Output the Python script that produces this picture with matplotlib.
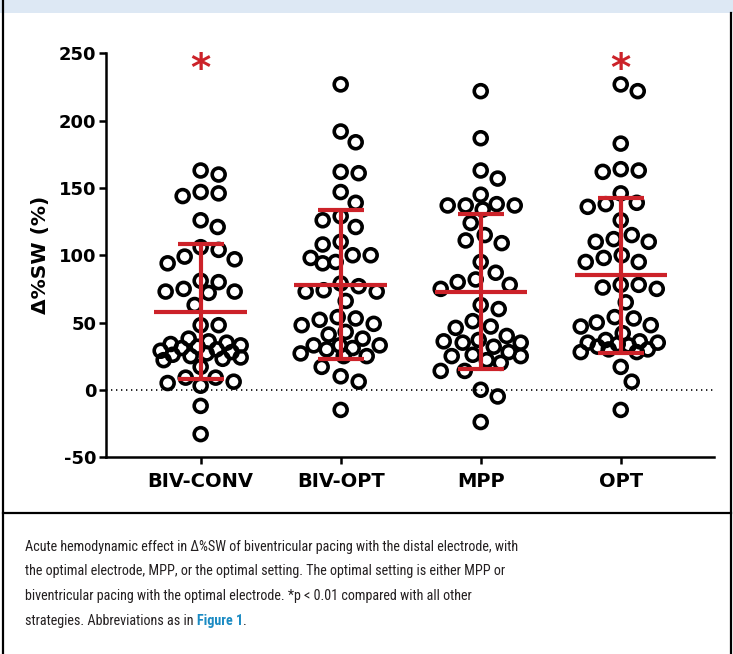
import numpy as np
import matplotlib
matplotlib.use('Agg')
import matplotlib.pyplot as plt
from matplotlib.patches import Rectangle
from matplotlib.lines import Line2D

# ---------------- data ----------------
categories = ['BIV-CONV', 'BIV-OPT', 'MPP', 'OPT']

biv_conv = [160, 163, 146, 144, 147, 121, 126, 106, 104, 94, 99, 97, 80, 81,
            73, 72, 73, 75, 63, 48, 48,
            38, 36, 35, 34, 33, 32, 31, 30, 29, 28, 27, 26, 25, 24, 23, 22,
            17, 9, 6, 3, 5, 9, -12, -33]
biv_opt = [227, 192, 184, 162, 161, 147, 139, 129, 126, 121, 110, 108, 100,
           95, 94, 98, 100, 77, 73, 66, 73, 74, 79, 53, 49, 43, 48, 52, 54,
           41, 38, 33, 30, 25, 25, 27, 31, 33, 33, 17, 10, 6, -15]
mpp = [222, 187, 163, 157, 145, 137, 137, 134, 137, 138, 124, 115, 109, 111,
       95, 87, 75, 80, 78, 82, 63, 60, 51, 46, 47, 40, 36, 35, 37, 35, 26, 22,
       28, 32, 25, 25, 20, 14, 14, 0, -5, -24]
opt = [227, 222, 183, 163, 162, 164, 146, 138, 136, 139, 126, 110, 112, 115,
       110, 100, 95, 95, 98, 78, 76, 75, 78, 65, 54, 50, 47, 48, 53, 42, 37,
       35, 34, 33, 35, 30, 28, 32, 30, 28, 36, 17, 6, -15]

group_values = [biv_conv, biv_opt, mpp, opt]
means = [58, 78, 73, 85]
sds = [50, 55.5, 57.5, 57.5]
significant = [True, False, False, True]
yticks = [-50, 0, 50, 100, 150, 200, 250]

caption_lines = [
    "Acute hemodynamic effect in \u0394%SW of biventricular pacing with the distal electrode, with",
    "the optimal electrode, MPP, or the optimal setting. The optimal setting is either MPP or",
    "biventricular pacing with the optimal electrode. *p < 0.01 compared with all other",
]
caption_last = "strategies. Abbreviations as in "
caption_link = "Figure 1"

RED = '#cc2229'
W, H = 733, 654

# ---------------- helpers ----------------
PX_X = 140.0          # pixels per category unit
PX_Y = 67.3 / 50.0    # pixels per y unit


def swarm_offsets(values, d=18.0, step=1.0, maxw=40.0):
    vals = np.asarray(values, float)
    order = np.argsort(-vals)
    cands = np.arange(-maxw, maxw + step / 2, step)
    cands = cands[np.argsort(np.abs(cands) + 1e-6 * (cands < 0))]
    placed_x, placed_y = [], []
    xs = np.zeros(len(vals))
    for i in order:
        y = vals[i] * PX_Y
        if placed_x:
            px = np.array(placed_x)
            py = np.array(placed_y)
            dmins = np.array([np.min(np.hypot(c - px, y - py)) for c in cands])
            ok = np.where(dmins >= d)[0]
            j = ok[0] if len(ok) else int(np.argmax(dmins))
            best = cands[j]
        else:
            best = 0.0
        placed_x.append(best)
        placed_y.append(y)
        xs[i] = best / PX_X
    return xs


# ---------------- figure ----------------
fig = plt.figure(figsize=(W / 100, H / 100), dpi=100)

def fx(x):
    return x / W

def fy(y):
    return 1 - y / H

# header band
fig.add_artist(Rectangle((0, fy(13)), 1, 13 / H, transform=fig.transFigure,
                         facecolor='#dde8f4', edgecolor='none', zorder=0))
# frame around chart panel
frame_kw = dict(color='black', lw=1.6, transform=fig.transFigure)
fig.add_artist(Line2D([fx(2.5), fx(2.5)], [fy(0), fy(654)], **frame_kw))
fig.add_artist(Line2D([fx(731), fx(731)], [fy(13), fy(654)], **frame_kw))
fig.add_artist(Line2D([fx(2.5), fx(731)], [fy(513), fy(513)], **frame_kw))

left, right = 106, 714
top, bottom = 53.5, 457
ax = fig.add_axes([fx(left), fy(bottom), (right - left) / W, (bottom - top) / H])

for i, vals in enumerate(group_values):
    xs = i + swarm_offsets(vals)
    ax.scatter(xs, vals, s=9.3 ** 2, facecolors='none', edgecolors='black',
               linewidths=2.6, zorder=3)
    m, s = means[i], sds[i]
    ax.hlines(m, i - 0.33, i + 0.33, color=RED, lw=3, zorder=4)
    ax.hlines([m - s, m + s], i - 0.165, i + 0.165, color=RED, lw=3, zorder=4)
    ax.vlines(i, m - s, m + s, color=RED, lw=3, zorder=4)
    if significant[i]:
        ax.text(i, 238, '*', color=RED, fontsize=28, fontweight='bold',
                ha='center', va='center', zorder=5)

ax.axhline(0, color='black', lw=1.2, linestyle=(0, (0.8, 2.2)), zorder=1)

ax.set_xlim(-0.676, 3.666)
ax.set_ylim(-50, 250)
ax.set_yticks(yticks)
ax.set_yticklabels([str(t) for t in yticks], fontsize=13, fontweight='bold')
ax.set_xticks(range(len(categories)))
ax.set_xticklabels(categories, fontsize=14, fontweight='bold')
ax.set_ylabel('\u0394%SW (%)', fontsize=14.5, fontweight='bold', labelpad=6)
for side in ['top', 'right']:
    ax.spines[side].set_visible(False)
for side in ['left', 'bottom']:
    ax.spines[side].set_linewidth(1.8)
ax.tick_params(axis='both', width=1.8, length=5, direction='out', color='black')
ax.tick_params(axis='y', pad=2)
ax.tick_params(axis='x', pad=6)

# caption
cap_family = ['Liberation Sans Narrow', 'Roboto Condensed', 'Roboto', 'DejaVu Sans']
cap_kw = dict(fontsize=10.2, family=cap_family, color='#231f20',
              transform=fig.transFigure, ha='left', va='baseline')
baselines = [550.5, 575, 600, 625]
for line, yb in zip(caption_lines, baselines[:3]):
    fig.text(fx(25), fy(yb), line, **cap_kw)
t_last = fig.text(fx(25), fy(baselines[3]), caption_last, **cap_kw)
fig.canvas.draw()
bb = t_last.get_window_extent()
x_link = bb.x1 / fig.bbox.width
link_kw = dict(cap_kw)
link_kw.update(color='#1b8bc3', fontweight='bold')
t_link = fig.text(x_link, fy(baselines[3]), caption_link, **link_kw)
fig.canvas.draw()
bb2 = t_link.get_window_extent()
fig.text(bb2.x1 / fig.bbox.width, fy(baselines[3]), '.', **cap_kw)

fig.savefig('out.png', dpi=100)
